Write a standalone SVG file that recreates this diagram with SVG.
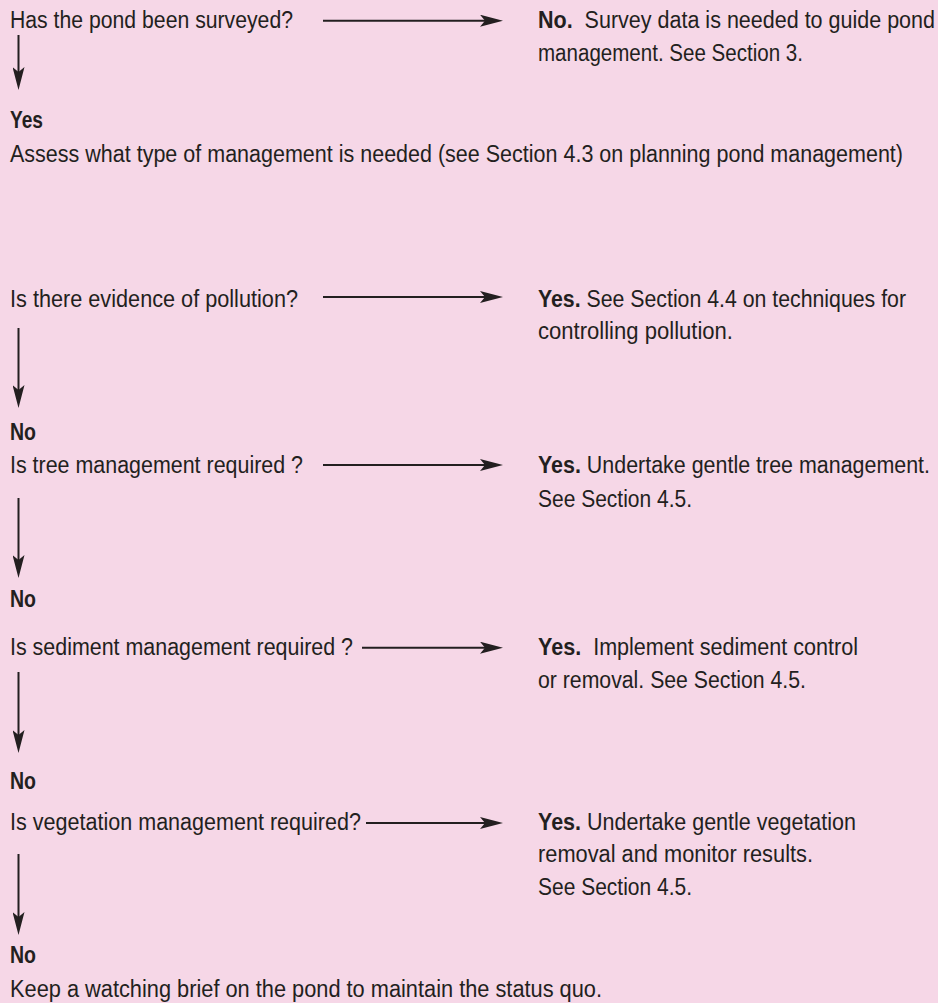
<svg xmlns="http://www.w3.org/2000/svg" width="938" height="1003" viewBox="0 0 938 1003">
<style>
text{font-family:"Liberation Sans Narrow","Liberation Sans",Arial,sans-serif;font-size:23px;fill:#231f20}
.b{font-weight:bold}
.conn{stroke:#231f20;stroke-width:2;fill:none}
</style>
<defs>
<marker id="ah" markerUnits="userSpaceOnUse" viewBox="0 0 23 12" markerWidth="23" markerHeight="12" refX="8" refY="6" orient="auto">
<path d="M0,0 L23,6 L0,12 L5,6 Z" fill="#231f20"/>
</marker>
</defs>
<rect width="938" height="1003" fill="#f6d7e7"/>
<g id="connectors">
<line class="conn" x1="323" y1="20.7" x2="488" y2="20.7" marker-end="url(#ah)"/>
<line class="conn" x1="18.5" y1="35" x2="18.5" y2="75" marker-end="url(#ah)"/>
<line class="conn" x1="323" y1="297" x2="488" y2="297" marker-end="url(#ah)"/>
<line class="conn" x1="18.5" y1="328" x2="18.5" y2="393" marker-end="url(#ah)"/>
<line class="conn" x1="323" y1="465" x2="488" y2="465" marker-end="url(#ah)"/>
<line class="conn" x1="18.5" y1="498" x2="18.5" y2="563" marker-end="url(#ah)"/>
<line class="conn" x1="362" y1="647.7" x2="488" y2="647.7" marker-end="url(#ah)"/>
<line class="conn" x1="18.5" y1="672" x2="18.5" y2="738" marker-end="url(#ah)"/>
<line class="conn" x1="366" y1="823" x2="488" y2="823" marker-end="url(#ah)"/>
<line class="conn" x1="18.5" y1="854" x2="18.5" y2="920" marker-end="url(#ah)"/>
</g>
<g id="q1">
<text x="10" y="28.3" textLength="283" lengthAdjust="spacingAndGlyphs">Has the pond been surveyed?</text>
</g>
<g id="a1">
<text x="538" y="28.3" textLength="397" lengthAdjust="spacingAndGlyphs" xml:space="preserve"><tspan class="b">No.</tspan>  Survey data is needed to guide pond</text>
<text x="538" y="60.5" textLength="265" lengthAdjust="spacingAndGlyphs">management. See Section 3.</text>
</g>
<g id="assess">
<text class="b" x="10" y="128.3" textLength="33" lengthAdjust="spacingAndGlyphs">Yes</text>
<text x="10" y="161.7" textLength="893" lengthAdjust="spacingAndGlyphs">Assess what type of management is needed (see Section 4.3 on planning pond management)</text>
</g>
<g id="q2">
<text x="10" y="306.7" textLength="288" lengthAdjust="spacingAndGlyphs">Is there evidence of pollution?</text>
</g>
<g id="a2">
<text x="538" y="306.7" textLength="368" lengthAdjust="spacingAndGlyphs"><tspan class="b">Yes.</tspan> See Section 4.4 on techniques for</text>
<text x="538" y="339.3" textLength="195" lengthAdjust="spacingAndGlyphs">controlling pollution.</text>
</g>
<g id="q3">
<text class="b" x="10" y="440" textLength="26" lengthAdjust="spacingAndGlyphs">No</text>
<text x="10" y="473.3" textLength="293" lengthAdjust="spacingAndGlyphs">Is tree management required ?</text>
</g>
<g id="a3">
<text x="538" y="473.3" textLength="392" lengthAdjust="spacingAndGlyphs"><tspan class="b">Yes.</tspan> Undertake gentle tree management.</text>
<text x="538" y="506.7" textLength="154" lengthAdjust="spacingAndGlyphs">See Section 4.5.</text>
</g>
<g id="q4">
<text class="b" x="10" y="606.7" textLength="26" lengthAdjust="spacingAndGlyphs">No</text>
<text x="10" y="655" textLength="343" lengthAdjust="spacingAndGlyphs">Is sediment management required ?</text>
</g>
<g id="a4">
<text x="538" y="655" textLength="320" lengthAdjust="spacingAndGlyphs" xml:space="preserve"><tspan class="b">Yes.</tspan>  Implement sediment control</text>
<text x="538" y="688" textLength="268" lengthAdjust="spacingAndGlyphs">or removal. See Section 4.5.</text>
</g>
<g id="q5">
<text class="b" x="10" y="789" textLength="26" lengthAdjust="spacingAndGlyphs">No</text>
<text x="10" y="830" textLength="351" lengthAdjust="spacingAndGlyphs">Is vegetation management required?</text>
</g>
<g id="a5">
<text x="538" y="830" textLength="318" lengthAdjust="spacingAndGlyphs"><tspan class="b">Yes.</tspan> Undertake gentle vegetation</text>
<text x="538" y="861.7" textLength="275" lengthAdjust="spacingAndGlyphs">removal and monitor results.</text>
<text x="538" y="895" textLength="154" lengthAdjust="spacingAndGlyphs">See Section 4.5.</text>
</g>
<g id="end">
<text class="b" x="10" y="962.7" textLength="26" lengthAdjust="spacingAndGlyphs">No</text>
<text x="10" y="996.5" textLength="592" lengthAdjust="spacingAndGlyphs">Keep a watching brief on the pond to maintain the status quo.</text>
</g>
</svg>
